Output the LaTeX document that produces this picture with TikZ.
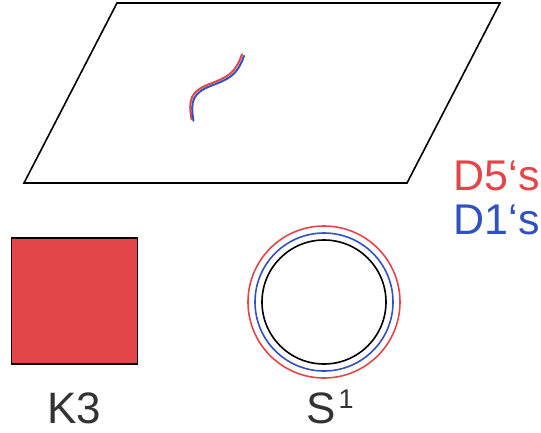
\documentclass[tikz,border=0pt]{standalone}
\usepackage{fontspec}
\setmainfont{Liberation Sans}
\definecolor{dred}{HTML}{E34548}
\definecolor{dblue}{HTML}{2F52C0}
\definecolor{tgray}{HTML}{333333}
\begin{document}
\begin{tikzpicture}[x=1pt,y=-1pt,
  edge/.style={draw=black,line width=1.6pt,line join=miter},
  lbl/.style={text=tgray,font=\fontsize{44}{46}\selectfont,inner sep=0pt},
  dlbl/.style={font=\fontsize{43}{46}\selectfont,inner sep=0pt,anchor=east},
  ring/.style={line width=1.6pt}]
\useasboundingbox (0,0) rectangle (541,432);
% plane
\draw[edge] (117,3) -- (500,3) -- (407,183) -- (24,183) -- cycle;
% brane curve
\draw[dred,line width=2pt,line cap=round] ([shift={(-1,-0.8)}]192.5,120) .. controls ([shift={(-1,-0.8)}]189,100) and ([shift={(-1,-0.8)}]192,92) .. ([shift={(-1,-0.8)}]210,85) .. controls ([shift={(-1,-0.8)}]228,78) and ([shift={(-1,-0.8)}]236,75) .. ([shift={(-1,-0.8)}]243,55);
\draw[dblue,line width=2pt,line cap=round] ([shift={(1,0.8)}]192.5,120) .. controls ([shift={(1,0.8)}]189,100) and ([shift={(1,0.8)}]192,92) .. ([shift={(1,0.8)}]210,85) .. controls ([shift={(1,0.8)}]228,78) and ([shift={(1,0.8)}]236,75) .. ([shift={(1,0.8)}]243,55);
% labels
\node[dlbl,text=dred] (d5) at (540,176) {D5‘s};
\node[dlbl,text=dblue] (d1) at (540,220) {D1‘s};
% K3
\node[draw=black,line width=1.5pt,fill=dred,minimum width=126pt,minimum height=126pt,inner sep=0pt] (k3) at (74.5,301) {};
\node[lbl,anchor=base] (k3l) at (74,423) {K3};
% S1
\coordinate (c) at (324,302);
\draw[ring,dred] (c) circle[radius=76];
\draw[ring,dblue] (c) circle[radius=69];
\draw[ring,black] (c) circle[radius=62];
\node[lbl,anchor=base west] (s1) at (306,423) {S\hspace{3pt}\raisebox{15pt}{\fontsize{27}{29}\selectfont 1}};
\end{tikzpicture}
\end{document}
